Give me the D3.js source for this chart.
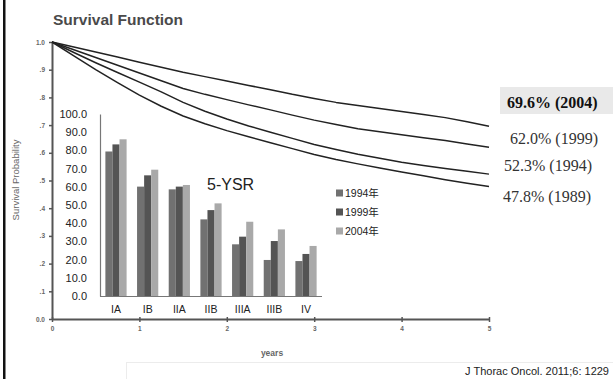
<!DOCTYPE html>
<html>
<head>
<meta charset="utf-8">
<script src="https://cdn.jsdelivr.net/npm/d3@7"></script>
<style>
  html, body { margin: 0; padding: 0; background: #fff; }
  svg { display: block; }
</style>
</head>
<body>
<div id="chart"></div>
<script>
// Kaplan-Meier curves, read at quarter-year points
const years = [0, 0.25, 0.5, 0.75, 1, 1.25, 1.5, 1.75, 2, 2.25, 2.5, 2.75, 3, 3.25, 3.5, 3.75, 4, 4.25, 4.5, 4.75, 5];
const surv2004 = [1, 0.982, 0.964, 0.946, 0.927, 0.909, 0.891, 0.875, 0.859, 0.843, 0.828, 0.811, 0.796, 0.782, 0.771, 0.76, 0.749, 0.738, 0.727, 0.712, 0.696];
const surv1999 = [1, 0.972, 0.944, 0.916, 0.888, 0.86, 0.832, 0.811, 0.792, 0.773, 0.755, 0.736, 0.718, 0.702, 0.687, 0.676, 0.665, 0.654, 0.644, 0.632, 0.62];
const surv1994 = [1, 0.962, 0.925, 0.89, 0.855, 0.82, 0.782, 0.75, 0.722, 0.697, 0.674, 0.652, 0.63, 0.612, 0.595, 0.58, 0.566, 0.554, 0.543, 0.533, 0.523];
const surv1989 = [1, 0.95, 0.9, 0.853, 0.808, 0.768, 0.733, 0.705, 0.68, 0.658, 0.636, 0.615, 0.594, 0.576, 0.56, 0.545, 0.531, 0.517, 0.503, 0.49, 0.478];
const curveLabels = ["69.6% (2004)", "62.0% (1999)", "52.3% (1994)", "47.8% (1989)"];

const survTicks = [0, 0.1, 0.2, 0.3, 0.4, 0.5, 0.6, 0.7, 0.8, 0.9, 1.0];
const survTickLabels = ["0.0", ".1", ".2", ".3", ".4", ".5", ".6", ".7", ".8", ".9", "1.0"];
const yearTicks = [0, 1, 2, 3, 4, 5];

// 5-year survival rate by stage (inset)
const stages = ["IA", "IB", "IIA", "IIB", "IIIA", "IIIB", "IV"];
const ysr1994 = [79.4, 60.1, 58.6, 42.1, 28.4, 19.8, 19.2];
const ysr1999 = [83.3, 66.3, 60.1, 47.2, 32.6, 30.2, 23.1];
const ysr2004 = [86.1, 69.4, 61.0, 50.9, 40.8, 36.6, 27.5];
const cohortNames = ["1994年", "1999年", "2004年"];
const cohortColors = ["#717171", "#545454", "#a9a9a9"];

const W = 613, H = 379;
const svg = d3.select("#chart").append("svg")
  .attr("width", W).attr("height", H);

// left frame line
svg.append("rect").attr("x", 3).attr("y", 0).attr("width", 2.5).attr("height", H).attr("fill", "#111");

// faint footer box
svg.append("rect").attr("x", 126.5).attr("y", 362.5).attr("width", 500).attr("height", 40)
  .attr("fill", "none").attr("stroke", "#ececec");

// ---- main KM chart ----
const x = d3.scaleLinear().domain([0, 5]).range([52, 489]);
const y = d3.scaleLinear().domain([0, 1]).range([319, 42]);

svg.append("text").attr("x", 53).attr("y", 25)
  .attr("font-family", "Liberation Sans, Arial, sans-serif").attr("font-weight", "bold")
  .attr("font-size", 15.5).attr("fill", "#4a4a4a").text("Survival Function");

const yAxis = svg.append("g").attr("transform", "translate(52,0)")
  .call(d3.axisLeft(y).tickValues(survTicks).tickSize(3).tickSizeOuter(0)
    .tickFormat((d, i) => survTickLabels[i]));
const xAxis = svg.append("g").attr("transform", "translate(0,319)")
  .call(d3.axisBottom(x).tickValues(yearTicks).tickSize(3).tickSizeOuter(0).tickFormat(d3.format("d")));
[yAxis, xAxis].forEach(a => {
  a.select(".domain").attr("stroke", "#555").attr("stroke-width", 2);
  a.selectAll(".tick line").attr("stroke", "#555").attr("stroke-width", 1.5);
  a.selectAll("text").attr("font-family", "Liberation Sans, Arial, sans-serif")
    .attr("font-weight", "bold").attr("font-size", 6.5).attr("fill", "#666");
});
xAxis.selectAll(".tick line").attr("y1", -2);
xAxis.selectAll("text").attr("dy", "0.9em");
yAxis.selectAll("text").attr("x", -7);

svg.append("text").attr("transform", "translate(19,180) rotate(-90)")
  .attr("text-anchor", "middle").attr("font-family", "Liberation Sans, Arial, sans-serif")
  .attr("font-size", 9.5).attr("fill", "#666").text("Survival Probability");
svg.append("text").attr("x", 272).attr("y", 356).attr("text-anchor", "middle")
  .attr("font-family", "Liberation Sans, Arial, sans-serif").attr("font-weight", "bold")
  .attr("font-size", 8.5).attr("fill", "#666").text("years");

const series = [surv2004, surv1999, surv1994, surv1989];
const line = d3.line().x((d, i) => x(years[i])).y(d => y(d));
svg.append("g").selectAll("path").data(series).join("path")
  .attr("d", line).attr("fill", "none").attr("stroke", "#222").attr("stroke-width", 1.5)
  .attr("stroke-linejoin", "round");

// end labels
const labelPos = [[507, 108], [510, 144], [504, 171], [503, 202]];
svg.append("rect").attr("x", 500).attr("y", 87).attr("width", 113).attr("height", 27).attr("fill", "#e9e9e9");
svg.append("g").selectAll("text").data(curveLabels).join("text")
  .attr("x", (d, i) => labelPos[i][0]).attr("y", (d, i) => labelPos[i][1])
  .attr("font-family", "Liberation Serif, Times New Roman, serif").attr("font-size", 16)
  .attr("font-weight", (d, i) => i === 0 ? "bold" : "normal")
  .attr("fill", (d, i) => i === 0 ? "#111" : "#333").text(d => d);

// ---- inset bar chart ----
const bx = d3.scaleBand().domain(stages).range([100, 322]).paddingInner(0.33).paddingOuter(0.17);
const by = d3.scaleLinear().domain([0, 100]).range([296, 114]);
const bsub = d3.scaleBand().domain(d3.range(3)).range([0, bx.bandwidth()]);
const cohorts = [ysr1994, ysr1999, ysr2004];

const inset = svg.append("g");
inset.selectAll("g.cohort").data(cohorts).join("g").attr("class", "cohort")
  .attr("fill", (d, i) => cohortColors[i])
  .each(function (vals, ci) {
    d3.select(this).selectAll("rect").data(vals).join("rect")
      .attr("x", (v, j) => bx(stages[j]) + bsub(ci))
      .attr("y", v => by(v))
      .attr("width", bsub.bandwidth())
      .attr("height", v => by(0) - by(v));
  });

const bAxisY = inset.append("g").attr("transform", "translate(100,0)")
  .call(d3.axisLeft(by).ticks(10).tickSize(0).tickPadding(13).tickFormat(d3.format(".1f")));
const bAxisX = inset.append("g").attr("transform", "translate(0,296)")
  .call(d3.axisBottom(bx).tickSize(0).tickPadding(10));
bAxisX.select(".domain").attr("d", "M100,0.5H322");
[bAxisY, bAxisX].forEach(a => {
  a.select(".domain").attr("stroke", "#777").attr("stroke-width", 1.2);
  a.selectAll("text").attr("font-family", "Liberation Sans, Arial, sans-serif")
    .attr("font-size", 11).attr("fill", "#222");
});
bAxisX.selectAll("text").attr("font-size", 10.5);

inset.append("text").attr("x", 207).attr("y", 190)
  .attr("font-family", "Liberation Sans, Arial, sans-serif").attr("font-size", 16)
  .attr("fill", "#222").text("5-YSR");

const legend = inset.append("g").selectAll("g").data(cohortNames).join("g")
  .attr("transform", (d, i) => `translate(336,${193 + i * 19})`);
legend.append("rect").attr("x", 0).attr("y", -3.5).attr("width", 7).attr("height", 7)
  .attr("fill", (d, i) => cohortColors[i]);
legend.append("text").attr("x", 9).attr("y", 0).attr("dy", "0.35em")
  .attr("font-family", "Liberation Sans, Noto Sans CJK JP, sans-serif").attr("font-size", 10.5)
  .attr("fill", "#222").text(d => d);

// citation
svg.append("text").attr("x", 609).attr("y", 375).attr("text-anchor", "end")
  .attr("font-family", "Liberation Sans, Arial, sans-serif").attr("font-size", 11)
  .attr("fill", "#222").text("J Thorac Oncol. 2011;6: 1229");
</script>
</body>
</html>
